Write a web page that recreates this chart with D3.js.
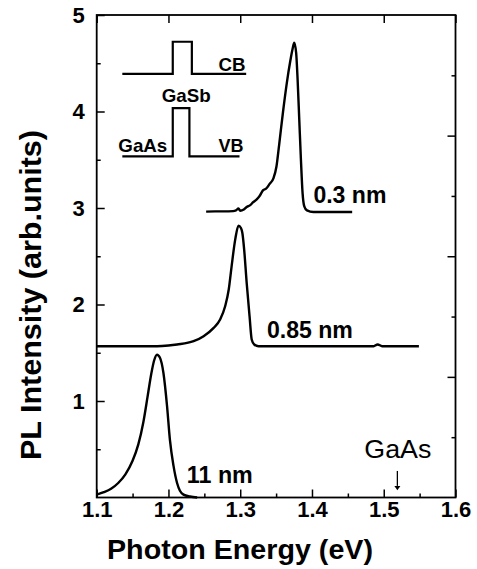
<!DOCTYPE html>
<html lang="en">
<head>
<meta charset="utf-8">
<title>PL spectra GaSb/GaAs</title>
<script src="https://d3js.org/d3.v7.min.js"></script>
<style>
  body { margin: 0; background: #fff; }
  text { font-family: Arial, "Liberation Sans", Helvetica, sans-serif; fill: #000; }
</style>
</head>
<body>
<script>
// PL spectra: [photon energy (eV), intensity (arb.units)]
var spec11nm = [
  [1.100, 0.03], [1.110, 0.055], [1.120, 0.09], [1.130, 0.15], [1.140, 0.24],
  [1.150, 0.38], [1.158, 0.55], [1.165, 0.78], [1.171, 1.05], [1.176, 1.28],
  [1.180, 1.42], [1.184, 1.48], [1.188, 1.45], [1.193, 1.29], [1.198, 0.95],
  [1.202, 0.60], [1.207, 0.33], [1.212, 0.15], [1.216, 0.07], [1.221, 0.03],
  [1.230, 0.01], [1.240, 0.00]
];
var spec085nm = [
  [1.100, 1.568], [1.150, 1.568], [1.184, 1.568], [1.200, 1.575], [1.212, 1.586],
  [1.235, 1.620], [1.249, 1.672], [1.263, 1.758], [1.272, 1.844], [1.279, 1.982],
  [1.284, 2.155], [1.288, 2.396], [1.293, 2.672], [1.2976, 2.817], [1.301, 2.793],
  [1.303, 2.741], [1.3055, 2.569], [1.309, 2.224], [1.313, 1.879], [1.316, 1.638],
  [1.3195, 1.586], [1.3255, 1.568], [1.400, 1.568], [1.486, 1.568], [1.4915, 1.586],
  [1.4977, 1.568], [1.549, 1.568]
];
var spec03nm = [
  [1.2525, 2.962], [1.265, 2.965], [1.277, 2.965], [1.290, 2.968], [1.294, 2.975],
  [1.2976, 2.995], [1.300, 2.972], [1.305, 2.985], [1.309, 3.010], [1.314, 3.030],
  [1.318, 3.060], [1.323, 3.090], [1.327, 3.125], [1.332, 3.185], [1.336, 3.200],
  [1.341, 3.250], [1.3464, 3.310], [1.3505, 3.430], [1.3542, 3.652], [1.3597, 4.000],
  [1.365, 4.300], [1.3697, 4.520], [1.373, 4.650], [1.3753, 4.713], [1.378, 4.603],
  [1.380, 4.327], [1.3823, 3.913], [1.3846, 3.500], [1.3869, 3.155], [1.3893, 3.017],
  [1.393, 2.975], [1.402, 2.958], [1.456, 2.958]
];

var xTicks = [1.1, 1.2, 1.3, 1.4, 1.5, 1.6];
var xMinor = [1.15, 1.25, 1.35, 1.45, 1.55];
var yTicks = [1, 2, 3, 4, 5];
var yMinor = [0.5, 1.5, 2.5, 3.5, 4.5];
var rTicks = [1, 2, 3];
var rMinor = [0.5, 1.5, 2.5, 3.5];

// band diagram inset, in data units of the plot
var insetCB = [[1.1357, 4.389], [1.206, 4.389], [1.206, 4.723], [1.2326, 4.723], [1.2326, 4.389], [1.3083, 4.389]];
var insetVB = [[1.1357, 3.534], [1.206, 3.534], [1.206, 4.034], [1.2292, 4.034], [1.2292, 3.534], [1.299, 3.534]];

var curveLabels = [
  {text: "0.3 nm", x: 1.402, y: 3.05, len: 73},
  {text: "0.85 nm", x: 1.3372, y: 1.655, len: 86},
  {text: "11 nm", x: 1.2256, y: 0.155, len: 66}
];
var insetLabels = [
  {text: "CB", x: 1.2697, y: 4.423, len: 27},
  {text: "GaSb", x: 1.1907, y: 4.103, len: 49},
  {text: "GaAs", x: 1.1301, y: 3.585, len: 49},
  {text: "VB", x: 1.2697, y: 3.585, len: 25}
];
var gaasGap = 1.519;

var W = 477, H = 569;
var plotL = 96.7, plotR = 455.5, plotT = 15, plotB = 497.5;

var svg = d3.select("body").append("svg")
  .attr("width", W)
  .attr("height", H);

var xs = d3.scaleLinear().domain([1.1, 1.6]).range([plotL, plotR]);
var ys = d3.scaleLinear().domain([0, 5]).range([plotB, plotT]);
var yr = d3.scaleLinear().domain([0, 4]).range([plotB, plotT]);

function styleAxis(g) {
  g.select(".domain").remove();
  g.selectAll(".tick line").attr("stroke", "#000").attr("stroke-width", 1.5);
  g.selectAll("text").style("font-weight", "bold").style("font-size", "22px")
    .attr("fill", "#000");
}

// bottom
svg.append("g").attr("transform", "translate(0," + plotB + ")")
  .call(d3.axisBottom(xs).tickValues(xTicks).tickSizeInner(-8).tickSizeOuter(0)
    .tickPadding(4).tickFormat(d3.format(".1f")))
  .call(styleAxis);
svg.append("g").attr("transform", "translate(0," + plotB + ")")
  .call(d3.axisBottom(xs).tickValues(xMinor).tickSizeInner(-4).tickSizeOuter(0).tickFormat(""))
  .call(styleAxis);
// top
svg.append("g").attr("transform", "translate(0," + plotT + ")")
  .call(d3.axisTop(xs).tickValues(xTicks).tickSizeInner(-8).tickSizeOuter(0).tickFormat(""))
  .call(styleAxis);
// left
svg.append("g").attr("transform", "translate(" + plotL + ",0)")
  .call(d3.axisLeft(ys).tickValues(yTicks).tickSizeInner(-8).tickSizeOuter(0)
    .tickPadding(12).tickFormat(d3.format("d")))
  .call(styleAxis);
svg.append("g").attr("transform", "translate(" + plotL + ",0)")
  .call(d3.axisLeft(ys).tickValues(yMinor).tickSizeInner(-4).tickSizeOuter(0).tickFormat(""))
  .call(styleAxis);
// right (its own scale)
svg.append("g").attr("transform", "translate(" + plotR + ",0)")
  .call(d3.axisRight(yr).tickValues(rTicks).tickSizeInner(-8).tickSizeOuter(0).tickFormat(""))
  .call(styleAxis);
svg.append("g").attr("transform", "translate(" + plotR + ",0)")
  .call(d3.axisRight(yr).tickValues(rMinor).tickSizeInner(-4).tickSizeOuter(0).tickFormat(""))
  .call(styleAxis);

// frame
svg.append("rect")
  .attr("x", plotL).attr("y", plotT)
  .attr("width", plotR - plotL).attr("height", plotB - plotT)
  .attr("fill", "none").attr("stroke", "#000").attr("stroke-width", 1.8);

var line = d3.line()
  .x(function(d) { return xs(d[0]); })
  .y(function(d) { return ys(d[1]); })
  .curve(d3.curveMonotoneX);

[spec11nm, spec085nm, spec03nm].forEach(function(s) {
  svg.append("path").datum(s)
    .attr("d", line)
    .attr("fill", "none").attr("stroke", "#000").attr("stroke-width", 2.4)
    .attr("stroke-linejoin", "round");
});

var stepLine = d3.line()
  .x(function(d) { return xs(d[0]); })
  .y(function(d) { return ys(d[1]); });

[insetCB, insetVB].forEach(function(s) {
  svg.append("path").datum(s)
    .attr("d", stepLine)
    .attr("fill", "none").attr("stroke", "#000").attr("stroke-width", 2.2);
});

svg.selectAll(".clabel").data(curveLabels).enter().append("text")
  .attr("class", "clabel")
  .attr("x", function(d) { return xs(d.x); })
  .attr("y", function(d) { return ys(d.y); })
  .attr("textLength", function(d) { return d.len; })
  .attr("lengthAdjust", "spacingAndGlyphs")
  .style("font-weight", "bold").style("font-size", "23px")
  .text(function(d) { return d.text; });

svg.selectAll(".ilabel").data(insetLabels).enter().append("text")
  .attr("class", "ilabel")
  .attr("x", function(d) { return xs(d.x); })
  .attr("y", function(d) { return ys(d.y); })
  .attr("textLength", function(d) { return d.len; })
  .attr("lengthAdjust", "spacingAndGlyphs")
  .style("font-weight", "bold").style("font-size", "18.5px")
  .text(function(d) { return d.text; });

// GaAs band gap marker
svg.append("text")
  .attr("x", xs(1.473)).attr("y", ys(0.414))
  .attr("textLength", 67).attr("lengthAdjust", "spacingAndGlyphs")
  .style("font-size", "26px")
  .text("GaAs");
svg.append("line")
  .attr("x1", xs(gaasGap)).attr("x2", xs(gaasGap))
  .attr("y1", ys(0.275)).attr("y2", ys(0.12))
  .attr("stroke", "#000").attr("stroke-width", 1.3);
svg.append("path")
  .attr("d", "M" + (xs(gaasGap) - 3) + "," + ys(0.12) + "L" + (xs(gaasGap) + 3) + "," + ys(0.12)
    + "L" + xs(gaasGap) + "," + ys(0.075) + "Z")
  .attr("fill", "#000");

// axis titles
svg.append("text")
  .attr("x", 107).attr("y", 559)
  .attr("textLength", 266).attr("lengthAdjust", "spacingAndGlyphs")
  .style("font-weight", "bold").style("font-size", "28px")
  .text("Photon Energy (eV)");

svg.append("text")
  .attr("transform", "translate(41,295) rotate(-90)")
  .attr("text-anchor", "middle")
  .attr("textLength", 330).attr("lengthAdjust", "spacingAndGlyphs")
  .style("font-weight", "bold").style("font-size", "30px")
  .text("PL Intensity (arb.units)");
</script>
</body>
</html>
